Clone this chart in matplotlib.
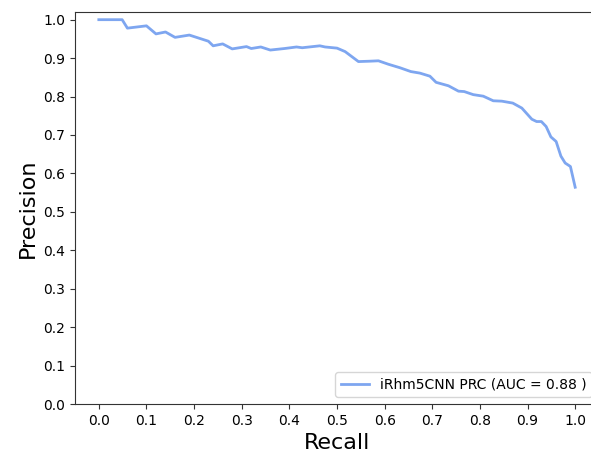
import matplotlib
matplotlib.use('Agg')
import matplotlib.pyplot as plt

recall = [0.0, 0.049, 0.06, 0.10, 0.12, 0.14, 0.16, 0.19, 0.21, 0.23, 0.24, 0.26, 0.28,
          0.31, 0.32, 0.34, 0.36, 0.39, 0.415, 0.427, 0.464, 0.475, 0.50, 0.517, 0.531,
          0.545, 0.569, 0.587, 0.608, 0.632, 0.655, 0.674, 0.695, 0.708, 0.734, 0.755,
          0.767, 0.786, 0.807, 0.828, 0.846, 0.869, 0.888, 0.909, 0.919, 0.929, 0.939,
          0.949, 0.960, 0.970, 0.979, 0.990, 1.0]
precision = [1.0, 1.0, 0.978, 0.984, 0.963, 0.968, 0.954, 0.960, 0.952, 0.944, 0.932, 0.937,
             0.924, 0.930, 0.925, 0.929, 0.921, 0.925, 0.929, 0.927, 0.932, 0.929, 0.926,
             0.917, 0.904, 0.891, 0.892, 0.893, 0.884, 0.875, 0.865, 0.861, 0.853, 0.837,
             0.828, 0.814, 0.813, 0.805, 0.801, 0.789, 0.788, 0.783, 0.770, 0.741, 0.735,
             0.735, 0.722, 0.695, 0.683, 0.645, 0.627, 0.618, 0.564]
label = 'iRhm5CNN PRC (AUC = 0.88 )'

fig = plt.figure(figsize=(5.91, 4.5), dpi=100)
# axes runs past the right edge of the picture, like the reference
ax = fig.add_axes([75 / 591, 46 / 450, 524 / 591, 392 / 450])
ax.plot(recall, precision, color='#7ea6f0', lw=2, label=label)

ax.set_xlim(-0.05, 1.05)
ax.set_ylim(0, 1.02)
ax.set_xticks([i / 10 for i in range(11)])
ax.set_yticks([i / 10 for i in range(11)])
ax.set_xlabel('Recall', fontsize=16)
ax.set_ylabel('Precision', fontsize=16)
for s in ax.spines.values():
    s.set_color('#333333')
ax.spines['right'].set_visible(False)
ax.tick_params(colors='#333333', labelcolor='black', labelsize=10)
ax.legend(loc='lower right', fontsize=10)

fig.savefig('out.png', dpi=100)
